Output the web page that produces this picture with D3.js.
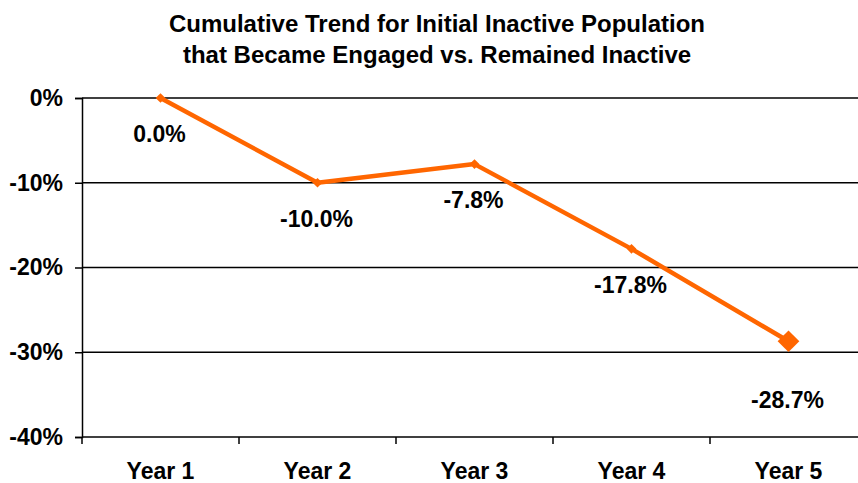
<!DOCTYPE html>
<html><head><meta charset="utf-8">
<script src="https://cdn.jsdelivr.net/npm/d3@7"></script>
<style>body{margin:0;background:#fff}svg{display:block;font-family:"Liberation Sans",Arial,sans-serif}</style>
</head><body>
<svg id="c" width="858" height="483"></svg>
<script>
const categories = ["Year 1","Year 2","Year 3","Year 4","Year 5"];
const values = [0.0, -10.0, -7.8, -17.8, -28.7];
const yTicks = [0, -10, -20, -30, -40];
const titleLines = ["Cumulative Trend for Initial Inactive Population","that Became Engaged vs. Remained Inactive"];

(function(){
const svg = d3.select("#c");
const mLeft = 82, mRight = 867, mTop = 98, mBottom = 437;
const x = d3.scaleBand().domain(categories).range([mLeft, mRight]);
const y = d3.scaleLinear().domain([-40, 0]).range([mBottom, mTop]);
const color = "#FF6600";
const ff = "Liberation Sans, Arial, sans-serif";

svg.selectAll("text.title").data(titleLines).enter().append("text")
  .attr("x", 437).attr("y", (d,i)=>32 + i*31)
  .attr("text-anchor","middle").attr("font-size","24px").attr("font-weight","bold")
  .text(d=>d);

svg.append("g").selectAll("line").data(yTicks).enter().append("line")
  .attr("x1", mLeft).attr("x2", mRight).attr("y1", d=>y(d)).attr("y2", d=>y(d))
  .attr("stroke","#000").attr("stroke-width",1.5);

const ya = svg.append("g").attr("transform",`translate(${mLeft},0)`)
  .call(d3.axisLeft(y).tickValues(yTicks).tickSize(7).tickPadding(12).tickFormat(d=>d+"%"));
ya.select(".domain").attr("stroke","#000").attr("stroke-width",1.5);
ya.selectAll(".tick line").attr("stroke-width",1.5);
ya.selectAll("text").attr("font-size","23px").attr("font-weight","bold").attr("font-family",ff).attr("fill","#000");

const xa = svg.append("g").attr("transform",`translate(0,${mBottom})`)
  .call(d3.axisBottom(x).tickSize(0).tickPadding(0));
xa.select(".domain").remove();
xa.selectAll("text").attr("dy",null).attr("y",42).attr("font-size","23px").attr("font-weight","bold").attr("font-family",ff).attr("fill","#000");
svg.append("g").selectAll("line").data(d3.range(categories.length+1)).enter().append("line")
  .attr("x1", i=>mLeft + i*x.bandwidth()).attr("x2", i=>mLeft + i*x.bandwidth())
  .attr("y1", mBottom).attr("y2", mBottom+7).attr("stroke","#000").attr("stroke-width",1.5);

const pts = categories.map((c,i)=>({c, v: values[i], last: i===categories.length-1}));
const cx = d=>x(d.c)+x.bandwidth()/2;

svg.append("path").datum(pts)
  .attr("d", d3.line().x(cx).y(d=>y(d.v)))
  .attr("fill","none").attr("stroke",color).attr("stroke-width",4.5).attr("stroke-linejoin","round");

svg.append("g").selectAll("path").data(pts).enter().append("path")
  .attr("transform", d=>`translate(${cx(d)},${y(d.v)})`)
  .attr("d", d=>d3.symbol().type(d3.symbolDiamond2).size(d.last ? 300 : 60)())
  .attr("fill",color);

svg.append("g").selectAll("text").data(pts).enter().append("text")
  .attr("x", d=>cx(d)-1).attr("y", d=>y(d.v) + (d.last ? 67 : 44))
  .attr("text-anchor","middle").attr("font-size","23px").attr("font-weight","bold")
  .text(d=>d.v.toFixed(1)+"%");
})();
</script>
</body></html>
